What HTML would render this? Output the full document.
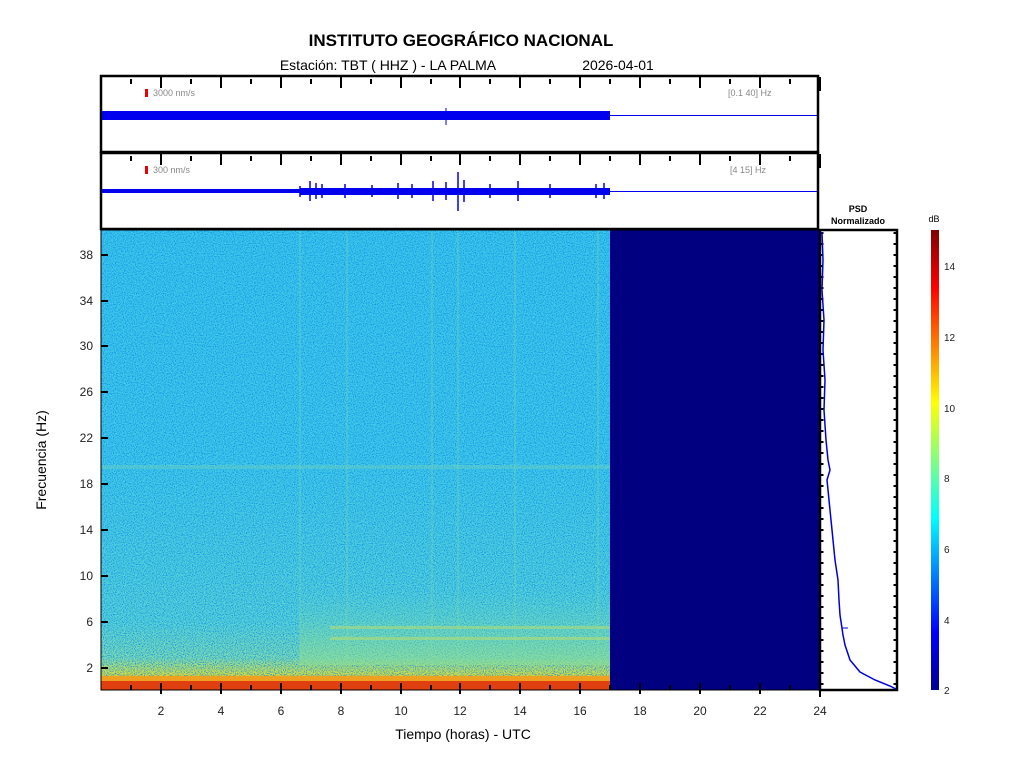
<!DOCTYPE html>
<html><head><meta charset="utf-8"><style>
body{margin:0;background:#fff;}
svg{display:block;font-family:"Liberation Sans",sans-serif;}
</style></head><body>
<svg width="1024" height="768" viewBox="0 0 1024 768" xmlns="http://www.w3.org/2000/svg">
<defs>
<linearGradient id="jet" x1="0" y1="1" x2="0" y2="0">
<stop offset="0" stop-color="#00008f"/>
<stop offset="0.125" stop-color="#0000ff"/>
<stop offset="0.375" stop-color="#00ffff"/>
<stop offset="0.625" stop-color="#ffff00"/>
<stop offset="0.875" stop-color="#ff0000"/>
<stop offset="1" stop-color="#800000"/>
</linearGradient>
<linearGradient id="spec" x1="0" y1="0" x2="0" y2="1">
<stop offset="0" stop-color="#40c8e8"/>
<stop offset="0.5" stop-color="#44cae6"/>
<stop offset="0.85" stop-color="#5cd4d4"/>
<stop offset="0.93" stop-color="#80dcb0"/>
<stop offset="0.965" stop-color="#d8e040"/>
<stop offset="0.985" stop-color="#f08a10"/>
<stop offset="1" stop-color="#d03010"/>
</linearGradient>
<linearGradient id="grn" x1="0" y1="0" x2="0" y2="1">
<stop offset="0" stop-color="#70d8b0" stop-opacity="0"/>
<stop offset="1" stop-color="#90e090" stop-opacity="0.6"/>
</linearGradient>
<filter id="noise" x="0" y="0" width="100%" height="100%">
<feTurbulence type="fractalNoise" baseFrequency="0.9" numOctaves="1" seed="3"/>
<feColorMatrix values="0 0 0 0 0  0 0 0 0 0.25  0 0 0 0 0.85  0 0 0 -2.6 1.5"/>
<feComposite in2="SourceGraphic" operator="in"/>
</filter>
</defs>

<text x="461" y="46" font-size="17" font-weight="bold" text-anchor="middle">INSTITUTO GEOGRÁFICO NACIONAL</text>
<text x="388" y="70" font-size="14" text-anchor="middle">Estación:  TBT ( HHZ ) - LA PALMA</text>
<text x="618" y="70" font-size="14" text-anchor="middle">2026-04-01</text>

<!-- trace panel 1 -->
<rect x="101" y="76" width="717" height="76" fill="#fff" stroke="#000" stroke-width="2.5"/>
<rect x="145" y="89" width="3" height="8" fill="#e00"/>
<text x="153" y="96" font-size="9" fill="#888">3000 nm/s</text>
<text x="728" y="96" font-size="9" fill="#888">[0.1 40] Hz</text>
<rect x="102" y="111" width="508" height="9" fill="#0000ee"/>
<line x1="610" y1="115.5" x2="817" y2="115.5" stroke="#0000ee" stroke-width="1"/>
<line x1="446" y1="108" x2="446" y2="125" stroke="#0000ee"/>
<!-- trace panel 2 -->
<rect x="101" y="153" width="717" height="76" fill="#fff" stroke="#000" stroke-width="2.5"/>
<rect x="145" y="166" width="3" height="8" fill="#e00"/>
<text x="153" y="173" font-size="9" fill="#888">300 nm/s</text>
<text x="730" y="173" font-size="9" fill="#888">[4 15] Hz</text>
<rect x="102" y="189" width="508" height="4" fill="#0000ee"/>
<line x1="610" y1="191.5" x2="817" y2="191.5" stroke="#0000ee" stroke-width="1"/>
<g stroke="#0000ee" stroke-width="1.5">
<line x1="300" y1="186" x2="300" y2="197"/><line x1="310" y1="181" x2="310" y2="201"/><line x1="316" y1="183" x2="316" y2="199"/><line x1="322" y1="184" x2="322" y2="198"/>
<line x1="345" y1="184" x2="345" y2="198"/><line x1="372" y1="185" x2="372" y2="197"/><line x1="398" y1="183" x2="398" y2="199"/><line x1="412" y1="184" x2="412" y2="198"/>
<line x1="433" y1="181" x2="433" y2="201"/><line x1="446" y1="182" x2="446" y2="200"/><line x1="458" y1="172" x2="458" y2="211"/><line x1="464" y1="180" x2="464" y2="202"/>
<line x1="490" y1="184" x2="490" y2="198"/><line x1="518" y1="181" x2="518" y2="201"/><line x1="550" y1="184" x2="550" y2="198"/><line x1="596" y1="184" x2="596" y2="198"/><line x1="604" y1="183" x2="604" y2="199"/>
</g>
<rect x="300" y="188" width="310" height="7" fill="#0000ee"/>

<!-- spectrogram -->
<rect x="101" y="230" width="509" height="460" fill="url(#spec)"/>
<rect x="101" y="230" width="509" height="460" fill="#fff" filter="url(#noise)"/>
<rect x="300" y="590" width="310" height="75" fill="url(#grn)"/>
<rect x="101" y="465" width="509" height="4" fill="#7cd8b4" opacity="0.35"/>
<rect x="330" y="626" width="280" height="3" fill="#c8e060" opacity="0.45"/>
<rect x="330" y="637" width="280" height="3" fill="#c8e060" opacity="0.45"/>
<g stroke="#8ee0a0" stroke-width="1.5" opacity="0.3">
<line x1="300" y1="230" x2="300" y2="690"/><line x1="347" y1="230" x2="347" y2="690"/><line x1="432" y1="230" x2="432" y2="690"/><line x1="458" y1="230" x2="458" y2="690"/><line x1="515" y1="230" x2="515" y2="690"/><line x1="598" y1="230" x2="598" y2="690"/>
</g>
<rect x="101" y="680" width="509" height="10" fill="#e04010"/>
<rect x="101" y="676" width="509" height="5" fill="#f0a020"/>
<rect x="610" y="230" width="210" height="460" fill="#000080"/>
<rect x="101" y="230" width="719" height="460" fill="none" stroke="#000" stroke-width="1"/>

<!-- x ticks -->
<g id="xt" stroke="#000" stroke-width="2">
<line x1="131" y1="690" x2="131" y2="685"/><line x1="161" y1="694" x2="161" y2="683"/>
<line x1="191" y1="690" x2="191" y2="685"/><line x1="221" y1="694" x2="221" y2="683"/>
<line x1="251" y1="690" x2="251" y2="685"/><line x1="281" y1="694" x2="281" y2="683"/>
<line x1="311" y1="690" x2="311" y2="685"/><line x1="341" y1="694" x2="341" y2="683"/>
<line x1="371" y1="690" x2="371" y2="685"/><line x1="401" y1="694" x2="401" y2="683"/>
<line x1="431" y1="690" x2="431" y2="685"/><line x1="460" y1="694" x2="460" y2="683"/>
<line x1="490" y1="690" x2="490" y2="685"/><line x1="520" y1="694" x2="520" y2="683"/>
<line x1="550" y1="690" x2="550" y2="685"/><line x1="580" y1="694" x2="580" y2="683"/>
<line x1="610" y1="690" x2="610" y2="685"/><line x1="640" y1="694" x2="640" y2="683"/>
<line x1="670" y1="690" x2="670" y2="685"/><line x1="700" y1="694" x2="700" y2="683"/>
<line x1="730" y1="690" x2="730" y2="685"/><line x1="760" y1="694" x2="760" y2="683"/>
<line x1="790" y1="690" x2="790" y2="685"/><line x1="820" y1="697" x2="820" y2="683"/>
</g>
<use href="#xt" transform="translate(0,-606)"/>
<use href="#xt" transform="translate(0,-529)"/>
<g font-size="12" text-anchor="middle" fill="#222">
<text x="161" y="715">2</text><text x="221" y="715">4</text><text x="281" y="715">6</text><text x="341" y="715">8</text>
<text x="401" y="715">10</text><text x="460" y="715">12</text><text x="520" y="715">14</text><text x="580" y="715">16</text>
<text x="640" y="715">18</text><text x="700" y="715">20</text><text x="760" y="715">22</text><text x="820" y="715">24</text>
</g>
<text x="463" y="739" font-size="14" text-anchor="middle">Tiempo (horas) - UTC</text>

<!-- y ticks -->
<g stroke="#000" stroke-width="2">
<line x1="101" y1="668" x2="108" y2="668"/><line x1="101" y1="622" x2="108" y2="622"/><line x1="101" y1="576" x2="108" y2="576"/>
<line x1="101" y1="530" x2="108" y2="530"/><line x1="101" y1="484" x2="108" y2="484"/><line x1="101" y1="438" x2="108" y2="438"/>
<line x1="101" y1="392" x2="108" y2="392"/><line x1="101" y1="346" x2="108" y2="346"/><line x1="101" y1="301" x2="108" y2="301"/><line x1="101" y1="255" x2="108" y2="255"/>
</g>
<g font-size="12" text-anchor="end" fill="#222">
<text x="93" y="672">2</text><text x="93" y="626">6</text><text x="93" y="580">10</text><text x="93" y="534">14</text>
<text x="93" y="488">18</text><text x="93" y="442">22</text><text x="93" y="396">26</text><text x="93" y="350">30</text>
<text x="93" y="305">34</text><text x="93" y="259">38</text>
</g>
<text transform="translate(46,460) rotate(-90)" font-size="14" text-anchor="middle">Frecuencia  (Hz)</text>

<!-- PSD -->
<text x="858" y="212" font-size="9" font-weight="bold" text-anchor="middle">PSD</text>
<text x="858" y="224" font-size="9" font-weight="bold" text-anchor="middle">Normalizado</text>
<rect x="820" y="230" width="77" height="460" fill="#fff" stroke="#000" stroke-width="2.5"/>
<g stroke="#000" stroke-width="3" stroke-dasharray="2,9">
<line x1="822" y1="232" x2="822" y2="688"/>
<line x1="895" y1="232" x2="895" y2="688"/>
</g>
<polyline fill="none" stroke="#0000dd" stroke-width="1.5" points="822,232 823,260 822,290 824,320 823,350 825,380 824,410 826,440 828,460 830,470 827,480 829,500 831,520 833,540 835,560 838,580 839,600 840,615 843,635 845,645 850,660 860,672 875,680 890,686 896,689"/>
<line x1="842" y1="628" x2="848" y2="628" stroke="#0000dd"/>

<!-- colorbar -->
<text x="934" y="222" font-size="9" text-anchor="middle">dB</text>
<rect x="931" y="230" width="8" height="460" fill="url(#jet)"/>
<g font-size="10" fill="#222">
<text x="944" y="694">2</text><text x="944" y="624">4</text><text x="944" y="553">6</text><text x="944" y="482">8</text>
<text x="944" y="412">10</text><text x="944" y="341">12</text><text x="944" y="270">14</text>
</g>
</svg>
</body></html>
